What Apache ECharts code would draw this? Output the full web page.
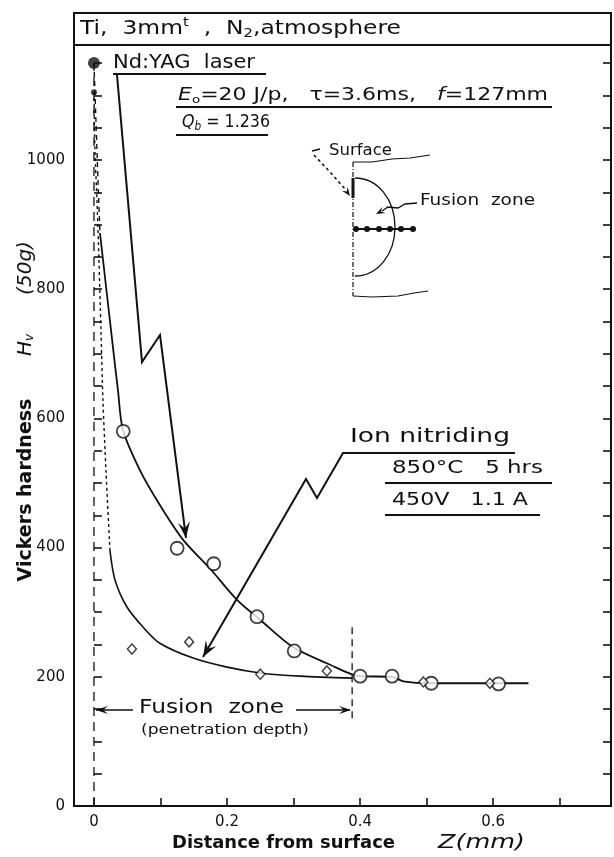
<!DOCTYPE html>
<html>
<head>
<meta charset="utf-8">
<script src="https://cdn.jsdelivr.net/npm/echarts@6/dist/echarts.min.js"></script>
<style>
  html, body { margin: 0; background: #fff; }
  #chart { width: 614px; height: 857px; }
</style>
</head>
<body>
<div id="chart"></div>
<script>
// measured hardness, Nd:YAG laser nitriding (open circles)
const laserZ = [0.044, 0.125, 0.180, 0.245, 0.301, 0.400, 0.448, 0.507, 0.608];
const laserHv = [580, 399, 375, 293, 240, 201, 201, 190, 189];

// measured hardness, ion nitriding (diamonds)
const ionZ = [0.057, 0.143, 0.250, 0.350, 0.495, 0.595];
const ionHv = [243, 254, 204, 209, 192, 190];

// surface values (filled dots)
const surfZ = [0, 0];
const surfHv = [1150, 1105];
const surfSize = [12, 6];

// hand drawn curve through the laser points
const laserTopZ = [0, 0.003, 0.006, 0.009];
const laserTopHv = [1150, 1060, 970, 887];
const laserFitZ = [0.009, 0.028, 0.036, 0.0436, 0.069, 0.099, 0.134, 0.174, 0.215, 0.250, 0.299, 0.350, 0.400, 0.448, 0.465, 0.507, 0.653];
const laserFitHv = [887, 715, 644, 582, 520, 466, 412, 368, 319, 288, 246, 221, 201, 200, 193, 190, 190];

// hand drawn curve through the ion nitriding points
const ionTopZ = [0, 0.0015, 0.0045, 0.0075, 0.0105, 0.0135, 0.018, 0.024];
const ionTopHv = [1105, 1015, 938, 845, 737, 628, 520, 396];
const ionFitZ = [0.024, 0.0316, 0.0496, 0.0737, 0.099, 0.149, 0.200, 0.250, 0.310, 0.388];
const ionFitHv = [396, 350, 308, 277, 252, 229, 215, 206, 201, 198];

// surface line and end of fusion zone
const surfaceLine = [[0, 0], [0, 1150]];
const fusionEnd = [[0.388, 136], [0.388, 277]];

// ticks and labels
const xTicks = [0, 0.1, 0.2, 0.3, 0.4, 0.5, 0.6, 0.7];
const xLabels = [0, 0.2, 0.4, 0.6];
const yTicks = [0, 50, 100, 150, 200, 250, 300, 350, 400, 450, 500, 550, 600, 650, 700, 750, 800, 850, 900, 950, 1000, 1050, 1100, 1150];
const yLabels = [0, 200, 400, 600, 800, 1000];

const INK = '#111';
const FONT = 'DejaVu Sans';

const zip = (a, b) => a.map((v, i) => [v, b[i]]);

function line(pts, w, dash) {
  return {
    type: 'polyline',
    shape: { points: pts },
    style: { stroke: INK, lineWidth: w || 1.6, fill: null, lineDash: dash || null },
    z: 10
  };
}

function curve(p1, c1, c2, p2, w) {
  return {
    type: 'bezierCurve',
    shape: { x1: p1[0], y1: p1[1], cpx1: c1[0], cpy1: c1[1], cpx2: c2[0], cpy2: c2[1], x2: p2[0], y2: p2[1] },
    style: { stroke: INK, lineWidth: w || 1.3, fill: null },
    z: 10
  };
}

function head(tip, from, len, half) {
  const dx = tip[0] - from[0], dy = tip[1] - from[1];
  const L = Math.hypot(dx, dy), ux = dx / L, uy = dy / L;
  const bx = tip[0] - ux * len, by = tip[1] - uy * len;
  const nx = -uy, ny = ux;
  return {
    type: 'polygon',
    shape: { points: [tip, [bx + nx * half, by + ny * half], [tip[0] - ux * len * 0.6, tip[1] - uy * len * 0.6], [bx - nx * half, by - ny * half]] },
    style: { fill: INK },
    z: 10
  };
}

function dot(cx, cy, r) {
  return { type: 'circle', shape: { cx: cx, cy: cy, r: r }, style: { fill: INK }, z: 10 };
}

// the scan's lettering is wide, so each run of text is stretched to the width it has there
const ctx = document.createElement('canvas').getContext('2d');
function cssFont(size, o) {
  return (o.it ? 'italic ' : '') + (o.bold || 'normal') + ' ' + size + 'px "' + FONT + '"';
}
function runText(x, y, target, parts) {
  const widths = parts.map(p => { ctx.font = cssFont(p[1], p[2] || {}); return ctx.measureText(p[0]).width; });
  const s = target ? target / widths.reduce((a, b) => a + b, 0) : 1;
  let cx = x;
  return parts.map((p, i) => {
    const o = p[2] || {};
    const el = {
      type: 'text', x: cx, y: y + (o.dy || 0), scaleX: s,
      style: {
        text: p[0], fontSize: p[1], fontFamily: FONT, fill: INK,
        fontStyle: o.it ? 'italic' : 'normal', fontWeight: o.bold || 'normal',
        align: 'left', verticalAlign: 'middle'
      },
      z: 10
    };
    cx += widths[i] * s;
    return el;
  });
}

function vtext(x, y, str, size, extra) {
  return {
    type: 'text', x: x, y: y, rotation: Math.PI / 2,
    style: Object.assign({ text: str, fontFamily: FONT, fontSize: size, fill: INK, align: 'center', verticalAlign: 'middle' }, extra || {}),
    z: 10
  };
}

const chart = echarts.init(document.getElementById('chart'));

const nd = [[117, 75], [142, 362], [160, 335], [186, 538]];
const ion = [[515, 453], [343, 453], [317, 498], [306, 479], [203, 657]];

const graphics = [].concat(
  [
    { type: 'rect', shape: { x: 74, y: 13, width: 537, height: 793 }, style: { fill: null, stroke: INK, lineWidth: 2 }, z: 10 },
    line([[74, 45], [611, 45]], 2)
  ],
  runText(80, 29, 321, [['Ti,  3mm', 19], ['t', 12, { dy: -6 }], ['  ,  N', 19], ['2', 12, { dy: 5 }], [',atmosphere', 19]]),

  // Nd:YAG laser note
  runText(113, 63, 142, [['Nd:YAG  laser', 19]]),
  [line([[113, 74], [266, 74]], 2)],
  runText(178, 95, 370, [['E', 18, { it: true }], ['o', 11, { dy: 5 }], ['=20 J/p,   τ=3.6ms,   ', 18], ['f', 18, { it: true }], ['=127mm', 18]]),
  [line([[176, 107], [552, 107]], 2)],
  runText(182, 122, 88, [['Q', 18, { it: true }], ['b', 12, { it: true, dy: 5 }], [' = 1.236', 18]]),
  [line([[176, 135], [268, 135]], 2), line(nd, 2), head(nd[3], nd[2], 16, 6)],

  // ion nitriding note
  runText(350, 437, 160, [['Ion nitriding', 20]]),
  [line(ion, 2), head(ion[4], ion[3], 16, 6)],
  runText(392, 468, 151, [['850°C   5 hrs', 18]]),
  [line([[385, 483], [552, 483]], 2)],
  runText(392, 500, 136, [['450V   1.1 A', 18]]),
  [line([[385, 515], [540, 515]], 2)],

  // inset sketch
  runText(329, 151, 63, [['Surface', 15]]),
  [
    line([[312, 151], [320, 149]], 1.5),
    line([[314, 155], [330, 172], [346, 190]], 1.5, [3, 3]),
    head([350, 196], [340, 182], 9, 3.5),
    line([[353, 162], [353, 296]], 1.2, [5, 2, 1, 2]),
    line([[353, 178], [353, 198]], 3),
    line([[353, 162], [372, 162], [392, 159], [410, 158], [430, 155]], 1.2),
    line([[353, 296], [372, 297], [398, 296], [414, 293], [428, 291]], 1.2),
    curve([355, 178], [378, 178], [395, 200], [395, 227]),
    curve([395, 227], [395, 254], [378, 276], [355, 276]),
    line([[353, 229], [413, 229]], 2),
    dot(356, 229, 3), dot(367, 229, 3), dot(379, 229, 3), dot(390, 229, 3), dot(401, 229, 3), dot(413, 229, 3),
    line([[417, 203], [405, 204], [398, 208], [388, 207], [382, 211]], 1.3),
    head([376, 214], [384, 210], 9, 3.5)
  ],
  runText(420, 201, 115, [['Fusion  zone', 16]]),

  // fusion zone span
  [
    line([[96, 710], [133, 710]], 1.6),
    head([96, 710], [110, 710], 12, 4),
    line([[296, 710], [350, 710]], 1.6),
    head([351, 710], [330, 710], 12, 4)
  ],
  runText(139, 708, 145, [['Fusion  zone', 19]]),
  runText(141, 730, 168, [['(penetration depth)', 14]]),

  // axis names
  [
    vtext(26, 490, 'Vickers hardness', 19, { fontWeight: 'bold' }),
    vtext(26, 345, '{i|H}{s|v}', 20, {
      rich: {
        i: { fontFamily: FONT, fontStyle: 'italic', fontSize: 20, fill: INK },
        s: { fontFamily: FONT, fontStyle: 'italic', fontSize: 12, verticalAlign: 'bottom', fill: INK }
      }
    }),
    vtext(26, 268, '(50g)', 20, { fontStyle: 'italic' })
  ],
  runText(172, 843, 223, [['Distance from surface', 18, { bold: 600 }]]),
  runText(438, 843, 87, [['Z', 19, { it: true }], ['(mm)', 19, { it: true }]])
);

const yAxisBase = {
  type: 'value', min: 0, max: 1178,
  axisLine: { show: false },
  splitLine: { show: false },
  axisTick: { show: true, inside: true, length: 8, customValues: yTicks, lineStyle: { color: INK, width: 1.6 } }
};

chart.setOption({
  backgroundColor: '#fff',
  animation: false,
  grid: { left: 74, right: 3, top: 45, bottom: 51 },
  xAxis: {
    type: 'value', min: -0.03, max: 0.777,
    axisLine: { show: false },
    splitLine: { show: false },
    axisTick: { show: true, inside: true, length: 8, customValues: xTicks, lineStyle: { color: INK, width: 1.6 } },
    axisLabel: { customValues: xLabels, margin: 9, fontSize: 15, fontFamily: FONT, color: INK, formatter: v => (v === 0 ? '0' : v.toFixed(1)) }
  },
  yAxis: [
    Object.assign({}, yAxisBase, {
      position: 'left',
      axisLabel: { customValues: yLabels, margin: 9, fontSize: 15, fontFamily: FONT, color: INK, formatter: v => String(v) }
    }),
    Object.assign({}, yAxisBase, { position: 'right', axisLabel: { show: false } })
  ],
  series: [
    { type: 'line', data: surfaceLine, symbol: 'none', lineStyle: { color: INK, width: 1.3, type: [9, 6] } },
    { type: 'line', data: fusionEnd, symbol: 'none', lineStyle: { color: INK, width: 1.3, type: [7, 5] } },
    { type: 'line', data: zip(laserTopZ, laserTopHv), symbol: 'none', smooth: 0.3, lineStyle: { color: INK, width: 1.4, type: [5, 4] } },
    { type: 'line', data: zip(laserFitZ, laserFitHv), symbol: 'none', smooth: 0.3, lineStyle: { color: INK, width: 1.8 } },
    { type: 'line', data: zip(ionTopZ, ionTopHv), symbol: 'none', smooth: 0.3, lineStyle: { color: INK, width: 1.4, type: [3, 3] } },
    { type: 'line', data: zip(ionFitZ, ionFitHv), symbol: 'none', smooth: 0.3, lineStyle: { color: INK, width: 1.6 } },
    {
      type: 'scatter', data: zip(laserZ, laserHv), symbol: 'circle', symbolSize: 13,
      itemStyle: { color: '#fff', borderColor: INK, borderWidth: 1.8 }, z: 5
    },
    {
      type: 'scatter', data: zip(ionZ, ionHv), symbol: 'diamond', symbolSize: [9, 10],
      itemStyle: { color: '#fff', borderColor: INK, borderWidth: 1.5 }, z: 6
    },
    {
      type: 'scatter', data: zip(surfZ, surfHv), symbol: 'circle',
      symbolSize: (v, p) => surfSize[p.dataIndex],
      itemStyle: { color: INK }, z: 7
    }
  ],
  graphic: graphics
});
</script>
</body>
</html>
